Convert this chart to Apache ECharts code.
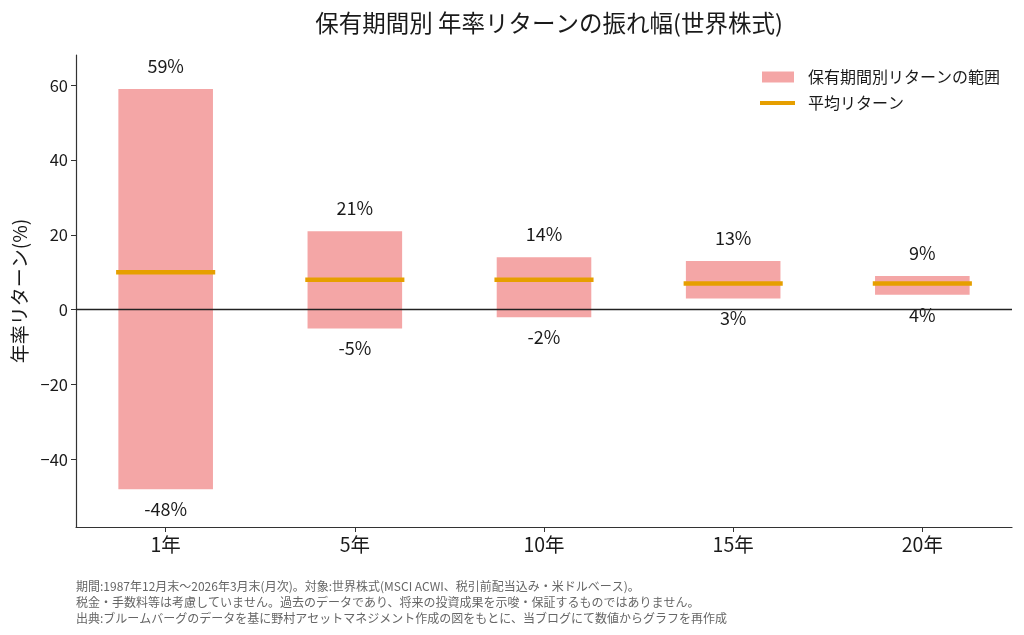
<!DOCTYPE html>
<html>
<head>
    <meta charset="UTF-8">
    <title>保有期間別 年率リターンの振れ幅</title>
    <script src="https://cdn.jsdelivr.net/npm/echarts@6/dist/echarts.min.js"></script>
    <style>
        html, body { margin: 0; padding: 0; background: #fff; }
    </style>
</head>
<body>
<div id="chart" style="width:1024px; height:635px;"></div>
<script>
    // データ
    var periods = ['1年', '5年', '10年', '15年', '20年'];
    var minReturns = [-48, -5, -2, 3, 4];
    var maxReturns = [59, 21, 14, 13, 9];
    var meanReturns = [10, 8, 8, 7, 7];
    var yTicks = [-40, -20, 0, 20, 40, 60];

    var FONT = '"Noto Sans CJK JP", "Noto Sans", sans-serif';
    var RANGE_NAME = '保有期間別リターンの範囲';
    var MEAN_NAME = '平均リターン';
    var RANGE_COLOR = '#f4a6a6';
    var MEAN_COLOR = '#e69f00';
    var TEXT_COLOR = '#1a1a1a';

    var rangeData = periods.map(function (p, i) {
        return [i, minReturns[i], maxReturns[i]];
    });
    var meanData = periods.map(function (p, i) {
        return [i, meanReturns[i]];
    });

    var chart = echarts.init(document.getElementById('chart'), null, {renderer: 'canvas'});

    var option = {
        backgroundColor: '#fff',
        animation: false,
        textStyle: {fontFamily: FONT},
        title: {
            text: '保有期間別 年率リターンの振れ幅(世界株式)',
            left: 544,
            textAlign: 'center',
            top: 6,
            textStyle: {fontFamily: FONT, fontSize: 23.5, fontWeight: 'normal', color: TEXT_COLOR}
        },
        legend: [
            {
                data: [{name: RANGE_NAME, icon: 'rect'}],
                left: 762,
                top: 69,
                padding: 0,
                itemWidth: 32,
                itemHeight: 11,
                selectedMode: false,
                textStyle: {fontFamily: FONT, fontSize: 16, color: TEXT_COLOR, padding: [0, 0, 0, 9]}
            },
            {
                data: [{name: MEAN_NAME, icon: 'rect'}],
                left: 760,
                top: 95,
                padding: 0,
                itemWidth: 35,
                itemHeight: 4,
                selectedMode: false,
                textStyle: {fontFamily: FONT, fontSize: 16, color: TEXT_COLOR, padding: [0, 0, 0, 8]}
            }
        ],
        grid: {left: 76, right: 12, top: 55, bottom: 108},
        xAxis: {
            type: 'value',
            min: -0.474,
            max: 4.474,
            splitLine: {show: false},
            axisLine: {onZero: false, lineStyle: {color: '#333', width: 1.2}},
            axisTick: {customValues: [0, 1, 2, 3, 4], length: 5, lineStyle: {color: '#333'}},
            axisLabel: {
                customValues: [0, 1, 2, 3, 4],
                formatter: function (v) { return periods[Math.round(v)]; },
                fontFamily: FONT,
                fontSize: 19.5,
                color: TEXT_COLOR,
                margin: 8
            }
        },
        yAxis: {
            type: 'value',
            min: -58.1,
            max: 68.1,
            name: '年率リターン(%)',
            nameLocation: 'middle',
            nameGap: 45,
            nameTextStyle: {fontFamily: FONT, fontSize: 19, color: TEXT_COLOR},
            splitLine: {show: false},
            axisLine: {show: true, onZero: false, lineStyle: {color: '#333', width: 1.2}},
            axisTick: {show: true, customValues: yTicks, length: 5, lineStyle: {color: '#333'}},
            axisLabel: {
                customValues: yTicks,
                formatter: function (v) { return String(v).replace('-', '\u2212'); },
                fontFamily: FONT,
                fontSize: 16.5,
                color: TEXT_COLOR,
                margin: 8
            }
        },
        series: [
            {
                // 0%の基準線
                type: 'line',
                silent: true,
                symbol: 'none',
                data: [],
                markLine: {
                    silent: true,
                    symbol: 'none',
                    label: {show: false},
                    lineStyle: {color: '#222', width: 1.3, type: 'solid'},
                    data: [{yAxis: 0}]
                },
                z: 3
            },
            {
                name: RANGE_NAME,
                type: 'custom',
                itemStyle: {color: RANGE_COLOR},
                data: rangeData,
                z: 2,
                renderItem: function (params, api) {
                    var x = api.value(0);
                    var lo = api.coord([x - 0.25, api.value(1)]);
                    var hi = api.coord([x + 0.25, api.value(2)]);
                    var cx = api.coord([x, 0])[0];
                    return {
                        type: 'group',
                        children: [
                            {
                                type: 'rect',
                                shape: {x: lo[0], y: hi[1], width: hi[0] - lo[0], height: lo[1] - hi[1]},
                                style: {fill: RANGE_COLOR}
                            },
                            {
                                type: 'text',
                                style: {
                                    text: api.value(2) + '%',
                                    x: cx, y: hi[1] - 23,
                                    align: 'center', verticalAlign: 'middle',
                                    font: '18px ' + FONT, fill: TEXT_COLOR
                                }
                            },
                            {
                                type: 'text',
                                z2: 10,
                                style: {
                                    text: api.value(1) + '%',
                                    x: cx, y: lo[1] + 20,
                                    align: 'center', verticalAlign: 'middle',
                                    font: '18px ' + FONT, fill: TEXT_COLOR
                                }
                            }
                        ]
                    };
                }
            },
            {
                name: MEAN_NAME,
                type: 'custom',
                itemStyle: {color: MEAN_COLOR},
                data: meanData,
                z: 4,
                renderItem: function (params, api) {
                    var x = api.value(0);
                    var a = api.coord([x - 0.262, api.value(1)]);
                    var b = api.coord([x + 0.262, api.value(1)]);
                    return {
                        type: 'line',
                        shape: {x1: a[0], y1: a[1], x2: b[0], y2: b[1]},
                        style: {stroke: MEAN_COLOR, lineWidth: 4.5}
                    };
                }
            }
        ],
        graphic: [
            {
                type: 'text',
                left: 76,
                top: 578,
                style: {
                    text: '期間:1987年12月末〜2026年3月末(月次)。対象:世界株式(MSCI ACWI、税引前配当込み・米ドルベース)。\n' +
                        '税金・手数料等は考慮していません。過去のデータであり、将来の投資成果を示唆・保証するものではありません。\n' +
                        '出典:ブルームバーグのデータを基に野村アセットマネジメント作成の図をもとに、当ブログにて数値からグラフを再作成',
                    font: '12px ' + FONT,
                    lineHeight: 16,
                    fill: '#666'
                }
            }
        ]
    };

    chart.setOption(option);
</script>
</body>
</html>
